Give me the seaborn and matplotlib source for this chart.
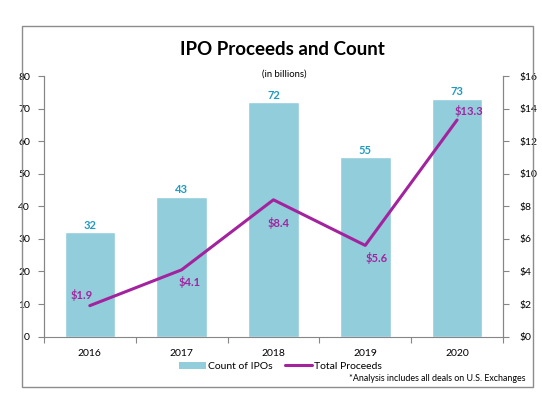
import numpy as np
import pandas as pd
import seaborn as sns
import matplotlib.pyplot as plt
from matplotlib.patches import Rectangle, Patch
from matplotlib.lines import Line2D

# data
years = ['2016', '2017', '2018', '2019', '2020']
ipo_count = [32, 43, 72, 55, 73]
proceeds = [1.9, 4.1, 8.4, 5.6, 13.3]

bar_color = '#92CDDC'
line_color = '#A3239E'
count_label_color = '#1E9BC0'

sns.set_theme(style='white')
plt.rcParams['font.family'] = ['Lato', 'DejaVu Sans']
plt.rcParams['text.color'] = 'black'
plt.rcParams['xtick.labelcolor'] = 'black'
plt.rcParams['ytick.labelcolor'] = 'black'

df = pd.DataFrame({'year': years, 'count': ipo_count, 'proceeds': proceeds})

fig = plt.figure(figsize=(5.42, 3.96), dpi=100)
ax = fig.add_axes([0.081, 0.150, 0.847, 0.658])

sns.barplot(data=df, x='year', y='count', color=bar_color, width=0.55,
            saturation=1, ax=ax)
ax.bar_label(ax.containers[0], padding=1, color=count_label_color,
             fontsize=8, fontweight='bold')

ax2 = ax.twinx()
sns.lineplot(x=np.arange(len(years)), y=df['proceeds'], color=line_color,
             linewidth=2.2, ax=ax2)

# label offsets (pixels) for proceeds values
offsets = [(-8, 11), (8, -12), (5, -23), (11, -13), (12, 9)]
for i, (v, off) in enumerate(zip(proceeds, offsets)):
    ax2.annotate(f'${v}', (i, v), xytext=off, textcoords='offset pixels',
                 ha='center', va='center', color=line_color,
                 fontsize=8, fontweight='bold')

ax.set_ylim(0, 80)
ax.set_yticks(range(0, 81, 10))
ax2.set_ylim(0, 16)
ax2.set_yticks(range(0, 17, 2))
ax2.set_yticklabels([f'${t}' for t in range(0, 17, 2)])
ax.set_xlim(-0.5, len(years) - 0.5)

ax.set_xlabel('')
ax.set_ylabel('')
ax2.set_ylabel('')

spine_color = '#868686'
for a in (ax, ax2):
    for s in a.spines.values():
        s.set_color(spine_color)
        s.set_linewidth(0.8)
    a.spines['top'].set_visible(False)
ax2.spines['bottom'].set_visible(False)

ax.tick_params(axis='y', left=True, direction='out', length=4, width=0.8,
               color=spine_color, labelsize=7.5, pad=6)
ax2.tick_params(axis='y', right=True, direction='out', length=4, width=0.8,
                color=spine_color, labelsize=7.5, pad=8)
ax.set_xticks(np.arange(-0.5, len(years)), minor=True)
ax.tick_params(axis='x', which='major', length=0, labelsize=7.5, pad=9)
ax.tick_params(axis='x', which='minor', bottom=True, direction='out',
               length=4, width=0.8, color=spine_color)

fig.text(0.521, 0.876, 'IPO Proceeds and Count', ha='center', va='center',
         fontsize=13.5, fontweight='bold')
fig.text(0.525, 0.814, '(in billions)', ha='center', va='center', fontsize=6.8)

handles = [Patch(facecolor=bar_color, edgecolor='none'),
           Line2D([0], [0], color=line_color, linewidth=2.2)]
fig.legend(handles, ['Count of IPOs', 'Total Proceeds'], loc='center',
           bbox_to_anchor=(0.517, 0.075), ncol=2, frameon=False, fontsize=7.5,
           handlelength=2.6, handleheight=0.7, columnspacing=1.2,
           handletextpad=0.2)
fig.text(0.970, 0.045, '*Analysis includes all deals on U.S. Exchanges',
         ha='right', va='center', fontsize=6.4)

fig.patches.append(Rectangle((0.0415, 0.0227), 0.942, 0.911,
                             transform=fig.transFigure, fill=False,
                             edgecolor='#8c8c8c', linewidth=1.0))

fig.savefig('out.png', dpi=100)
